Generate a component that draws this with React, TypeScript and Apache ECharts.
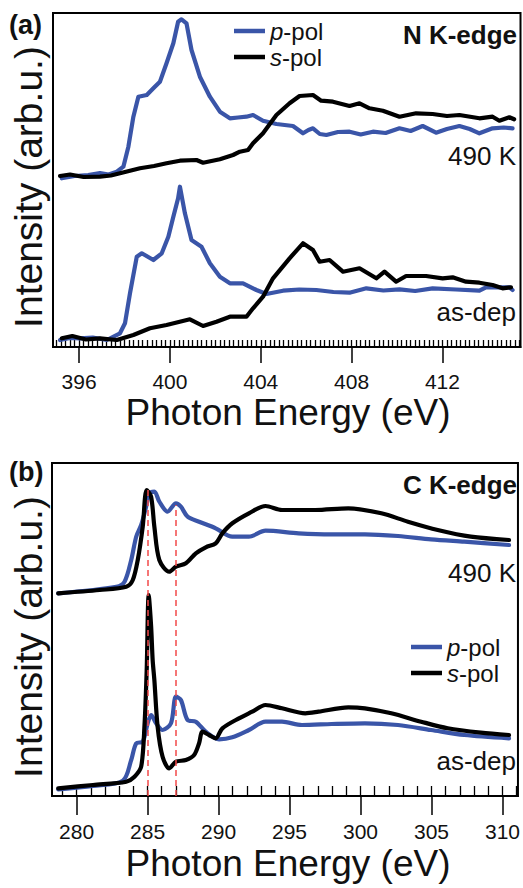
import React, { useEffect, useRef } from "react";
import * as echarts from "echarts";

// ---- Panel (a): N K-edge ----
const aHotP: [number, number][] = [
  [395.24, 168.7], [395.8, 171], [396.4, 172], [396.92, 174], [397.3, 172.5], [397.66, 175.3], [397.95, 180.3],
  [398.17, 200.3], [398.39, 230.3], [398.61, 250.3], [398.98, 252], [399.27, 258.7], [399.56, 265.3],
  [399.85, 283.7], [400.15, 303.7], [400.36, 325.3], [400.51, 327.7], [400.73, 323.7], [400.95, 297],
  [401.32, 270.3], [401.76, 250.3], [402.2, 235.3], [402.64, 228.7], [403.0, 229.5], [403.37, 230.3], [403.66, 232],
  [404.1, 226.3], [404.69, 223], [405.42, 221], [405.86, 213.7], [406.1, 217], [406.3, 218.7], [406.6, 213],
  [406.89, 212], [407.4, 215], [407.91, 215.3], [408.4, 212.5], [408.94, 215.3], [409.5, 214], [410.11, 218.7],
  [410.6, 216], [411.13, 221], [411.72, 214.3], [412.2, 218], [412.75, 221], [413.2, 218], [413.63, 213.7],
  [414.21, 218.7], [414.7, 219.5], [415.09, 218.7],
];
const aHotS: [number, number][] = [
  [395.16, 171], [395.6, 172.5], [396.2, 170], [396.92, 170.3], [397.4, 171.5], [397.8, 173.7], [398.68, 178.7],
  [399.3, 181], [399.85, 183.7], [400.44, 186.3], [401.17, 187], [401.46, 184.3], [402.2, 187.7],
  [402.78, 192], [403.08, 195.3], [403.44, 197], [403.66, 203.7], [404.1, 213.7], [404.69, 232],
  [405.27, 243.7], [405.71, 251], [406.3, 252], [406.66, 246.3], [407.18, 245.3], [407.91, 241],
  [408.35, 243.7], [408.79, 238.7], [409.38, 236.3], [410.11, 230.3], [410.84, 233.7], [411.57, 233],
  [412.2, 231], [412.75, 232], [413.63, 228.7], [414.21, 230.3], [414.51, 226.3], [414.95, 229.7], [415.16, 227.7],
];
const aDepP: [number, number][] = [
  [395.16, 7], [395.6, 9], [396.04, 8.7], [396.6, 9.5], [397.22, 7], [397.8, 13.7], [398.02, 23.7],
  [398.24, 53.7], [398.54, 90.3], [398.76, 93.7], [399.27, 87], [399.64, 93.7], [399.93, 110.3],
  [400.15, 130.3], [400.36, 148.7], [400.44, 160.3], [400.66, 133.7], [400.95, 107], [401.39, 100.3],
  [401.76, 83.7], [402.2, 70.3], [402.64, 63.7], [403.22, 63.7], [403.81, 57], [404.25, 53],
  [404.98, 56.3], [405.7, 57.5], [406.45, 57], [407.2, 55], [407.91, 54.3], [408.65, 58.7], [409.4, 56.5], [410.11, 57.7],
  [410.8, 56], [411.57, 58.7], [412.6, 57.5], [413.63, 56.3], [413.92, 59.7], [414.95, 59.7], [415.09, 57],
];
const aDepS: [number, number][] = [
  [395.24, 8.7], [395.7, 11], [396.3, 7.5], [396.92, 8.7], [397.66, 7], [398.39, 12], [399.12, 18.7],
  [399.85, 22], [400.88, 27.7], [401.46, 21], [402.05, 25.3], [402.64, 30.3], [403.37, 30.3],
  [403.66, 38.7], [404.1, 50.3], [404.54, 68.7], [405.27, 88.7], [405.86, 103.7], [406.3, 97],
  [406.59, 85.3], [407.03, 87], [407.62, 75.3], [408.35, 78.7], [409.09, 68.7], [409.45, 75.3],
  [409.96, 65.3], [410.4, 71], [411.28, 71], [412.01, 68.7], [412.45, 69.7], [413.04, 65.3],
  [413.63, 64.3], [414.21, 62], [414.65, 58.7], [415.02, 59.7],
];
const aMajorTicks = [396, 400, 404, 408, 412];

// ---- Panel (b): C K-edge ----
const bHotP: [number, number][] = [
  [278.71, 202.7], [282.8, 209.3], [283.38, 214.3], [283.85, 236], [284.2, 259.3], [284.55, 271],
  [284.9, 289.3], [285.13, 302.7], [285.48, 304.3], [285.83, 294.3], [286.41, 284.3], [287.0, 292.7],
  [287.35, 289.3], [287.82, 279.3], [288.63, 274.3], [289.8, 267.7], [290.97, 259.3], [292.14, 259.3],
  [293.31, 265.3], [295.64, 262.7], [297.97, 261.7], [300.31, 261.7], [302.64, 260], [304.97, 256.7],
  [307.31, 254.3], [310.46, 251],
];
const bHotS: [number, number][] = [
  [278.71, 202.7], [281.63, 206], [283.5, 209.3], [283.96, 216], [284.31, 236], [284.66, 269.3],
  [284.94, 306], [285.25, 299.3], [285.48, 269.3], [285.83, 236], [286.53, 224.3], [287.0, 229.3],
  [287.7, 232.7], [288.4, 242.7], [289.1, 248.7], [289.8, 252.7], [290.27, 262.7], [290.97, 272.7],
  [292.14, 282.7], [293.31, 290], [294.47, 286], [296.81, 286], [299.14, 287.7], [301.47, 282.7],
  [303.34, 274.3], [305.44, 266], [307.77, 259.3], [310.46, 256],
];
const bDepP: [number, number][] = [
  [278.71, 6.7], [281.16, 10], [283.26, 15.3], [283.85, 36], [284.2, 52.7], [284.66, 54.3],
  [285.01, 72.7], [285.25, 81], [285.6, 72.7], [286.06, 66], [286.65, 72.7], [287.0, 99.3],
  [287.35, 96], [287.82, 76], [288.4, 74.3], [289.1, 64.3], [290.04, 56.7], [290.97, 58.7],
  [292.14, 66], [293.31, 74.3], [294.47, 74.3], [295.87, 71], [297.97, 72], [300.31, 72.7],
  [302.64, 71], [304.97, 66], [307.31, 61], [310.46, 57.7],
];
const bDepS: [number, number][] = [
  [278.71, 7.7], [281.16, 11], [283.5, 14.3], [284.08, 19.3], [284.55, 29.3], [284.78, 69.3],
  [284.94, 126], [285.08, 201], [285.25, 170], [285.36, 136], [285.48, 116], [285.71, 69.3],
  [286.06, 39.3], [286.53, 27.7], [287.0, 34.3], [287.7, 36], [288.28, 41], [288.63, 52.7],
  [288.87, 64.3], [289.33, 61], [289.8, 57.7], [290.27, 67.7], [291.44, 77.7], [292.37, 84.3],
  [293.31, 91], [294.47, 87.7], [296.11, 82.7], [297.04, 84.3], [299.14, 88.7], [300.31, 87.7],
  [302.17, 82.7], [304.27, 74.3], [306.14, 67.7], [308.47, 63.3], [310.46, 61],
];
const bMajorTicks = [280, 285, 290, 295, 300, 305, 310];
const bDashed: [number, number][] = [[285, 306], [287, 291]];

const BLUE = "#3a55a8";
const FONT = "'Liberation Sans', Arial, Helvetica, sans-serif";

function range(a: number, b: number, step: number) {
  const out: number[] = [];
  for (let v = a; v <= b + 1e-9; v += step) out.push(Math.round(v * 100) / 100);
  return out;
}

export default function App() {
  const ref = useRef<HTMLDivElement>(null);
  useEffect(() => {
    document.body.style.margin = "0";
    const chart = echarts.init(ref.current!, undefined, { renderer: "svg" });
    const aMinor = range(395, 415.4, 0.2);
    const bMinor = range(279, 311, 1);
    const majorAxis = (grid: number, min: number, max: number, ticks: number[], len: number, margin: number) => ({
      type: "value", gridIndex: grid, min, max,
      axisLine: { show: true, onZero: false, lineStyle: { color: "#000", width: 2 } },
      axisTick: { show: true, customValues: ticks, length: len, lineStyle: { color: "#000", width: 1.5 } },
      axisLabel: { show: true, customValues: ticks, margin, fontSize: 21, color: "#111", fontFamily: FONT },
      splitLine: { show: false },
    });
    const minorAxis = (grid: number, min: number, max: number, ticks: number[], len: number) => ({
      type: "value", gridIndex: grid, min, max,
      axisLine: { show: false },
      axisTick: { show: true, customValues: ticks, length: len, lineStyle: { color: "#000", width: 1.3 } },
      axisLabel: { show: false },
      splitLine: { show: false },
    });
    const line = (name: string, data: [number, number][], color: string, xi: number, yi: number, smooth: number | boolean, extra: any = {}) => ({
      type: "line", name, data, xAxisIndex: xi, yAxisIndex: yi, showSymbol: false, symbol: "none",
      smooth, lineStyle: { color, width: 4.2, join: "round", cap: "round" }, itemStyle: { color }, ...extra,
    });
    const legendBase = {
      orient: "vertical", icon: "rect", itemWidth: 31, itemHeight: 4.5, itemGap: 2, itemStyle: { borderWidth: 0 },
      selectedMode: false,
      data: ["p-pol", "s-pol"],
      formatter: (n: string) => `{i|${n[0]}}{n|${n.slice(1)}}`,
      textStyle: {
        color: "#111", fontFamily: FONT, fontSize: 24,
        rich: { i: { fontStyle: "italic", fontSize: 24, fontFamily: FONT, color: "#111" }, n: { fontSize: 24, fontFamily: FONT, color: "#111" } },
      },
    };
    const txt = (text: string, x: number, y: number, size: number, bold = false, align = "right", rotation = 0) => ({
      type: "text", x, y, rotation,
      style: { text, font: `${bold ? "bold " : ""}${size}px ${FONT}`, fill: "#111", align, verticalAlign: "middle" },
    });
    chart.setOption({
      animation: false,
      grid: [
        { left: 53, top: 13, right: 2.5, bottom: 541, show: true, borderColor: "#000", borderWidth: 2 },
        { left: 52, top: 463, right: 2.5, bottom: 92, show: true, borderColor: "#000", borderWidth: 2 },
      ],
      xAxis: [
        majorAxis(0, 394.85, 415.44, aMajorTicks, 16, 24),
        minorAxis(0, 394.85, 415.44, aMinor, 7),
        majorAxis(1, 278.27, 311.09, bMajorTicks, 19, 25),
        minorAxis(1, 278.27, 311.09, bMinor, 10),
      ],
      yAxis: [
        { type: "value", gridIndex: 0, min: 0, max: 334, show: false },
        { type: "value", gridIndex: 1, min: 0, max: 333, show: false },
      ],
      legend: [
        { ...legendBase, left: 229, top: 14 },
        { ...legendBase, left: 406, top: 630 },
      ],
      series: [
        line("p-pol", aHotP, BLUE, 0, 0, false),
        line("s-pol", aHotS, "#000", 0, 0, false),
        line("p-pol", aDepP, BLUE, 0, 0, false),
        line("s-pol", aDepS, "#000", 0, 0, false),
        line("p-pol", bHotP, BLUE, 2, 1, 0.3),
        line("s-pol", bHotS, "#000", 2, 1, 0.3),
        line("p-pol", bDepP, BLUE, 2, 1, 0.3),
        line("s-pol", bDepS, "#000", 2, 1, 0.3, {
          markLine: {
            silent: true, symbol: "none", label: { show: false }, z: 10,
            lineStyle: { color: "#f24a4a", type: [6, 4], width: 1.5 },
            data: bDashed.map(([x, y]) => [{ coord: [x, 0] }, { coord: [x, y] }]),
          },
        }),
      ],
      graphic: [
        txt("(a)", 9, 25, 27, true, "left"),
        txt("N K-edge", 517, 35, 26, true),
        txt("490 K", 516, 156, 26),
        txt("as-dep", 516, 312, 26),
        txt("Photon Energy (eV)", 288, 412, 37, false, "center"),
        txt("Intensity (arb.u.)", 28, 187, 39, false, "center", Math.PI / 2),
        txt("(b)", 9, 472, 27, true, "left"),
        txt("C K-edge", 517, 485, 26, true),
        txt("490 K", 516, 573, 26),
        txt("as-dep", 516, 761, 26),
        txt("Photon Energy (eV)", 288, 863, 37, false, "center"),
        txt("Intensity (arb.u.)", 28, 637, 39, false, "center", Math.PI / 2),
      ],
    });
    return () => chart.dispose();
  }, []);
  return <div ref={ref} style={{ width: 523, height: 888 }} />;
}
